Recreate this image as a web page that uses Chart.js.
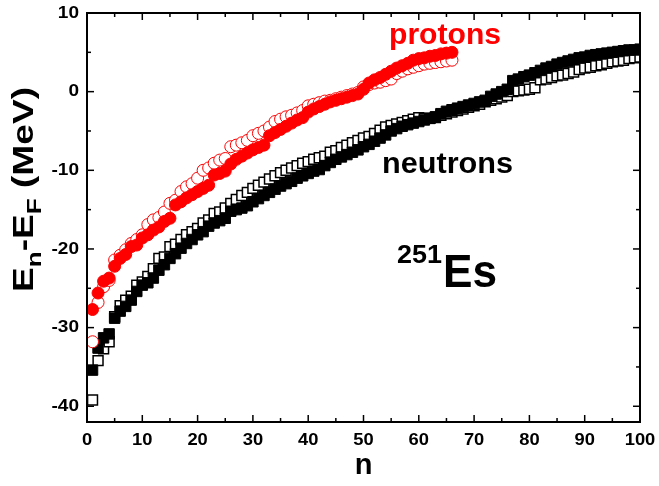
<!DOCTYPE html>
<html><head><meta charset="utf-8">
<script src="https://cdn.jsdelivr.net/npm/chart.js@4.4.0/dist/chart.umd.min.js"></script>
<style>html,body{margin:0;padding:0;background:#fff;} #wrap{width:659px;height:486px;position:relative;}</style>
</head><body><div id="wrap"><canvas id="c" width="659" height="486"></canvas></div>
<script>
// Level index n = position in array + 1
const protonsFilled = [-27.7,-25.6,-24.1,-23.7,-22.2,-21.2,-20.7,-19.7,-19.5,-18.6,
  -18.2,-17.6,-17.2,-16.5,-16.1,-14.4,-14.0,-13.5,-13.1,-12.7,
  -12.3,-11.9,-10.6,-10.4,-10.1,-9.2,-8.6,-8.2,-7.8,-7.4,
  -7.1,-6.8,-5.6,-5.2,-4.8,-4.4,-4.0,-3.6,-3.3,-2.6,
  -2.2,-1.9,-1.6,-1.3,-1.1,-0.9,-0.7,-0.5,-0.3,0.3,
  1.1,1.5,1.8,2.2,2.6,3.0,3.3,3.6,4.0,4.2,
  4.3,4.5,4.6,4.8,4.9,5.0];
const protonsOpen = [-31.8,-26.8,-24.8,-24.0,-21.4,-20.8,-20.1,-19.3,-18.8,-18.2,
  -16.9,-16.3,-16.0,-15.3,-14.2,-13.8,-12.7,-12.1,-11.7,-11.0,
  -10.0,-9.7,-9.1,-8.7,-8.5,-7.0,-6.8,-6.5,-6.2,-5.6,
  -5.3,-5.0,-4.5,-3.8,-3.5,-3.2,-3.0,-2.7,-2.4,-1.8,
  -1.6,-1.4,-1.2,-1.1,-0.9,-0.7,-0.5,-0.3,-0.1,0.6,
  0.9,1.1,1.2,1.4,1.6,2.3,2.6,2.9,3.1,3.3,
  3.5,3.6,3.7,3.8,3.9,4.0];
const neutronsFilled = [-35.4,-32.6,-31.3,-30.8,-28.8,-27.9,-27.3,-26.5,-25.4,-24.6,
  -24.3,-23.7,-22.7,-22.0,-21.2,-20.6,-19.9,-19.3,-18.8,-18.2,
  -17.8,-17.1,-16.7,-16.4,-16.1,-15.2,-15.0,-14.8,-14.5,-14.0,
  -13.6,-13.2,-12.8,-12.4,-12.0,-11.7,-11.4,-11.0,-10.7,-10.4,
  -10.1,-9.9,-9.4,-9.0,-8.6,-8.3,-8.0,-7.7,-7.4,-7.0,
  -6.7,-6.3,-5.9,-5.5,-5.0,-4.7,-4.4,-4.2,-4.0,-3.8,
  -3.6,-3.4,-3.2,-2.8,-2.5,-2.3,-2.1,-1.9,-1.7,-1.5,
  -1.3,-1.1,-0.6,-0.3,0.0,0.3,1.4,1.6,1.9,2.1,
  2.4,2.7,3.0,3.2,3.5,3.7,3.9,4.1,4.3,4.4,
  4.6,4.7,4.8,4.9,5.0,5.1,5.2,5.3,5.3,5.4];
const neutronsOpen = [-39.2,-34.2,-32.7,-31.8,-28.6,-27.2,-26.5,-26.0,-24.6,-24.2,
  -23.5,-22.5,-21.2,-21.0,-19.7,-19.4,-18.8,-18.2,-17.8,-17.4,
  -16.7,-16.3,-15.5,-15.3,-14.8,-14.2,-13.7,-13.2,-12.8,-12.3,
  -11.9,-11.5,-11.1,-10.7,-10.3,-10.0,-9.7,-9.4,-9.1,-8.9,
  -8.6,-8.4,-8.2,-7.7,-7.5,-7.1,-6.8,-6.5,-6.2,-5.9,
  -5.7,-5.3,-4.9,-4.5,-4.3,-4.1,-3.9,-3.7,-3.5,-3.3,
  -3.4,-3.4,-3.3,-3.0,-2.8,-2.6,-2.4,-2.2,-2.0,-1.8,
  -1.6,-1.3,-1.1,-0.9,-0.7,-0.5,0.0,0.1,0.2,0.3,
  0.5,1.5,1.6,1.8,2.0,2.1,2.3,2.5,2.8,3.0,
  3.1,3.3,3.4,3.6,3.8,3.9,4.0,4.2,4.3,4.4];
const xTickLabels = [0,10,20,30,40,50,60,70,80,90,100];
const yTickLabels = [-40,-30,-20,-10,0,10];
const xRange = [0, 100];
const yRange = [-42, 10];

const toPts = arr => arr.map((v, i) => ({x: i + 1, y: v}));
const RED = 'rgb(255,0,0)';
const FONT = '"Liberation Sans", Arial, sans-serif';

function drawText(ctx, txt, font, x, y, opts = {}) {
  ctx.save();
  ctx.font = font;
  ctx.fillStyle = opts.color || '#000';
  ctx.textBaseline = opts.baseline || 'alphabetic';
  const w = ctx.measureText(txt).width;
  const sx = opts.width ? opts.width / w : (opts.sx || 1);
  let ox = 0;
  if (opts.align === 'center') ox = -w * sx / 2;
  else if (opts.align === 'right') ox = -w * sx;
  ctx.translate(x + ox, y);
  ctx.scale(sx, 1);
  ctx.textAlign = 'left';
  ctx.fillText(txt, 0, 0);
  ctx.restore();
}

const framePlugin = {
  id: 'framePlugin',
  afterDraw(chart) {
    const {ctx, chartArea: a, scales: {x, y}} = chart;
    ctx.save();
    ctx.strokeStyle = '#000';
    ctx.lineWidth = 1.5;
    const line = (x1, y1, x2, y2) => { ctx.beginPath(); ctx.moveTo(x1, y1); ctx.lineTo(x2, y2); ctx.stroke(); };
    for (let v = xRange[0]; v <= xRange[1]; v += 5) {
      const px = x.getPixelForValue(v);
      const L = v % 10 === 0 ? 7 : 4;
      line(px, a.bottom, px, a.bottom - L);
      line(px, a.top, px, a.top + L);
    }
    for (let v = -40; v <= yRange[1]; v += 5) {
      const py = y.getPixelForValue(v);
      const L = v % 10 === 0 ? 7 : 4;
      line(a.left, py, a.left + L, py);
      line(a.right, py, a.right - L, py);
    }
    ctx.lineWidth = 2;
    ctx.strokeRect(a.left, a.top, a.right - a.left, a.bottom - a.top);
    ctx.restore();

    // tick labels
    xTickLabels.forEach(v => {
      drawText(ctx, String(v), 'bold 17px ' + FONT, x.getPixelForValue(v), a.bottom + 10,
        {align: 'center', baseline: 'top', sx: 1.08});
    });
    yTickLabels.forEach(v => {
      drawText(ctx, String(v), 'bold 17px ' + FONT, 79, y.getPixelForValue(v),
        {align: 'right', baseline: 'middle', sx: 1.12});
    });

    // x axis title
    drawText(ctx, 'n', 'bold 29px ' + FONT, x.getPixelForValue(50), 474, {align: 'center'});

    // y axis title (rotated, with subscripts)
    ctx.save();
    ctx.translate(33, 292);
    ctx.rotate(-Math.PI / 2);
    const parts = [
      ['E', 'bold 30px ' + FONT, 0],
      ['n', 'bold 21px ' + FONT, 8],
      ['-', 'bold 30px ' + FONT, 0],
      ['E', 'bold 30px ' + FONT, 0],
      ['F', 'bold 21px ' + FONT, 8],
      [' (MeV)', 'bold 30px ' + FONT, 0]
    ];
    let total = 0;
    parts.forEach(p => { ctx.font = p[1]; total += ctx.measureText(p[0]).width; });
    const s = 205 / total;
    ctx.scale(s, 1);
    let cx = 0;
    ctx.fillStyle = '#000';
    ctx.textBaseline = 'alphabetic';
    parts.forEach(p => { ctx.font = p[1]; ctx.fillText(p[0], cx, p[2]); cx += ctx.measureText(p[0]).width; });
    ctx.restore();

    // annotations
    drawText(ctx, 'protons', 'bold 30px ' + FONT, 389, 44, {color: RED, width: 112});
    drawText(ctx, 'neutrons', 'bold 30px ' + FONT, 382, 173, {width: 131});
    drawText(ctx, '251', 'bold 26px ' + FONT, 397, 263, {width: 45});
    drawText(ctx, 'Es', 'bold 46px ' + FONT, 443, 287, {width: 54});
  }
};

new Chart(document.getElementById('c'), {
  type: 'scatter',
  data: {
    datasets: [
      {label: 'protons (filled)', data: toPts(protonsFilled), pointStyle: 'circle', pointRadius: 6,
       backgroundColor: RED, borderColor: RED, borderWidth: 1, showLine: false},
      {label: 'protons (open)', data: toPts(protonsOpen), pointStyle: 'circle', pointRadius: 6,
       backgroundColor: '#fff', borderColor: RED, borderWidth: 1, showLine: false},
      {label: 'neutrons (filled)', data: toPts(neutronsFilled), pointStyle: 'rect', pointRadius: 7.4,
       backgroundColor: '#000', borderColor: '#000', borderWidth: 1, showLine: false},
      {label: 'neutrons (open)', data: toPts(neutronsOpen), pointStyle: 'rect', pointRadius: 7,
       backgroundColor: '#fff', borderColor: '#000', borderWidth: 1.5, showLine: false}
    ]
  },
  options: {
    responsive: false,
    animation: false,
    devicePixelRatio: 1,
    layout: {padding: {left: 87, right: 19, top: 13, bottom: 64}},
    plugins: {legend: {display: false}, tooltip: {enabled: false}},
    scales: {
      x: {type: 'linear', min: xRange[0], max: xRange[1], display: false},
      y: {type: 'linear', min: yRange[0], max: yRange[1], display: false}
    }
  },
  plugins: [framePlugin]
});
</script>
</body></html>
